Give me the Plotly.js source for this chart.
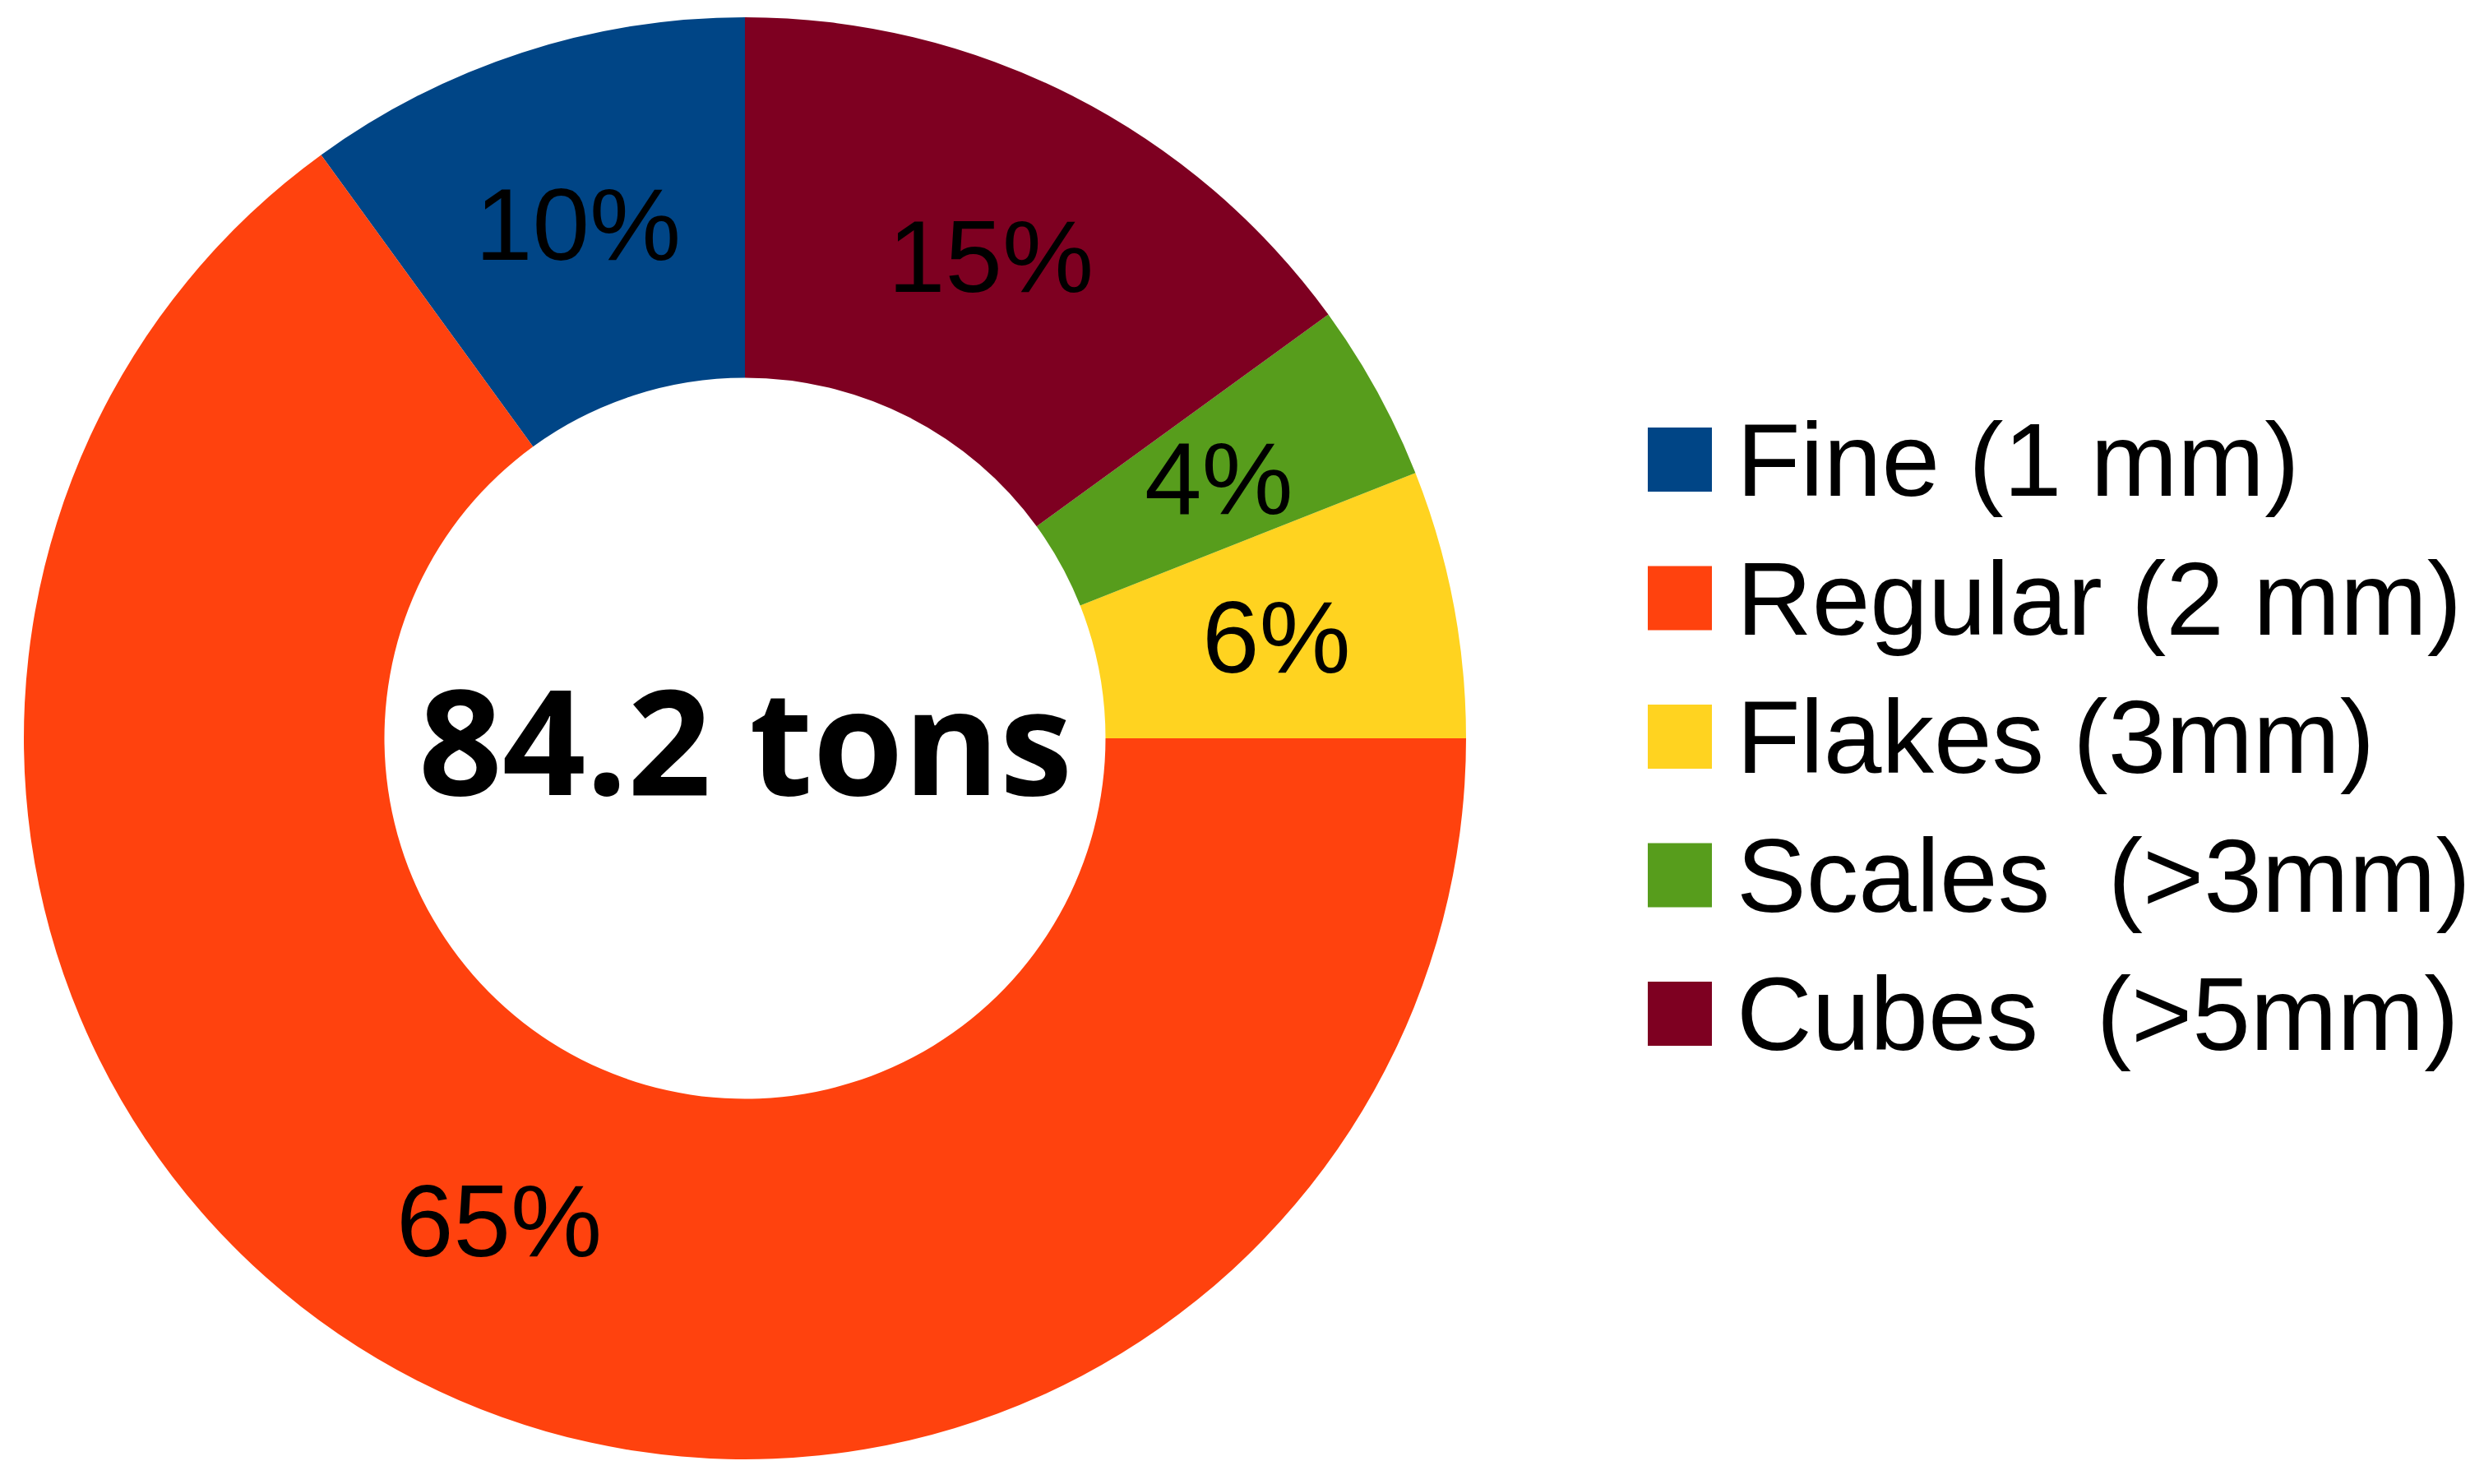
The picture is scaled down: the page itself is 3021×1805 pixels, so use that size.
<!DOCTYPE html>
<html>
<head>
<meta charset="utf-8">
<script src="https://cdn.plot.ly/plotly-3.0.1.min.js"></script>
<style>
  html, body { margin: 0; padding: 0; background: #fff; }
  #chart { width: 3021px; height: 1805px; }
</style>
</head>
<body>
<div id="chart"></div>
<script>
// sizes of salt grains, share of total production (%)
const categories = ["Fine (1 mm)", "Regular (2 mm)", "Flakes (3mm)", "Scales  (>3mm)", "Cubes  (>5mm)"];
const shares = [10, 65, 6, 4, 15];
const sliceColors = ["#004586", "#ff420e", "#ffd320", "#579d1c", "#7e0021"];
const totalLabel = "84.2 tons";

const W = 3021, H = 1805;

// donut placement in pixels
const cx = 906, cy = 898, R = 877;
const hole = 0.5;

const domainX = [(cx - R) / W, (cx + R) / W];
const domainY = [(H - cy - R) / H, (H - cy + R) / H];

const total = shares.reduce((a, b) => a + b, 0);

// plotly ends the first slice at the rotation angle when going counterclockwise,
// so turn it back by the first slice to make it start at 12 o'clock
const rotation = -shares[0] / total * 360;

// percent labels sit in the middle of the ring, at each slice's mid angle
let cum = 0;
const labelAnnotations = shares.map(v => {
  const mid = (cum + v / 2) / total * 2 * Math.PI;
  cum += v;
  const r = R * (1 + hole) / 2;
  return {
    x: (cx - r * Math.sin(mid)) / W,
    y: (H - cy + r * Math.cos(mid)) / H,
    xref: 'paper', yref: 'paper',
    text: Math.round(v / total * 100) + '%',
    showarrow: false,
    xanchor: 'center', yanchor: 'middle',
    font: { family: 'Liberation Sans, Arial, sans-serif', size: 125, color: '#000' }
  };
});

// legend drawn by hand so the swatches can be large
const legendTop = 559, legendStep = 168.5, swatch = 78, swatchX = 2004, textX = 2110;
const legendShapes = categories.map((c, i) => {
  const yc = legendTop + i * legendStep;
  return {
    type: 'rect', xref: 'paper', yref: 'paper',
    x0: swatchX / W, x1: (swatchX + swatch) / W,
    y0: (H - yc - swatch / 2) / H, y1: (H - yc + swatch / 2) / H,
    fillcolor: sliceColors[i], line: { width: 0 }
  };
});
const legendLabels = categories.map((c, i) => ({
  x: textX / W,
  y: (H - (legendTop + i * legendStep)) / H,
  xref: 'paper', yref: 'paper',
  text: c.replace(/ /g, '&nbsp;'),
  showarrow: false,
  xanchor: 'left', yanchor: 'middle',
  font: { family: 'Liberation Sans, Arial, sans-serif', size: 127, color: '#000' }
}));

const centerLabel = {
  x: cx / W, y: (H - cy) / H,
  xref: 'paper', yref: 'paper',
  text: '<b>' + totalLabel + '</b>',
  showarrow: false,
  xanchor: 'center', yanchor: 'middle',
  font: { family: 'Open Sans, sans-serif', size: 178, color: '#000' }
};

Plotly.newPlot('chart', [{
  type: 'pie',
  labels: categories,
  values: shares,
  hole: hole,
  sort: false,
  direction: 'counterclockwise',
  rotation: rotation,
  textinfo: 'none',
  hoverinfo: 'label+percent',
  marker: { colors: sliceColors, line: { width: 0 } },
  domain: { x: domainX, y: domainY }
}], {
  width: W,
  height: H,
  showlegend: false,
  margin: { t: 0, b: 0, l: 0, r: 0 },
  paper_bgcolor: '#fff',
  shapes: legendShapes,
  annotations: labelAnnotations.concat(legendLabels, [centerLabel])
}, { staticPlot: true });
</script>
</body>
</html>
